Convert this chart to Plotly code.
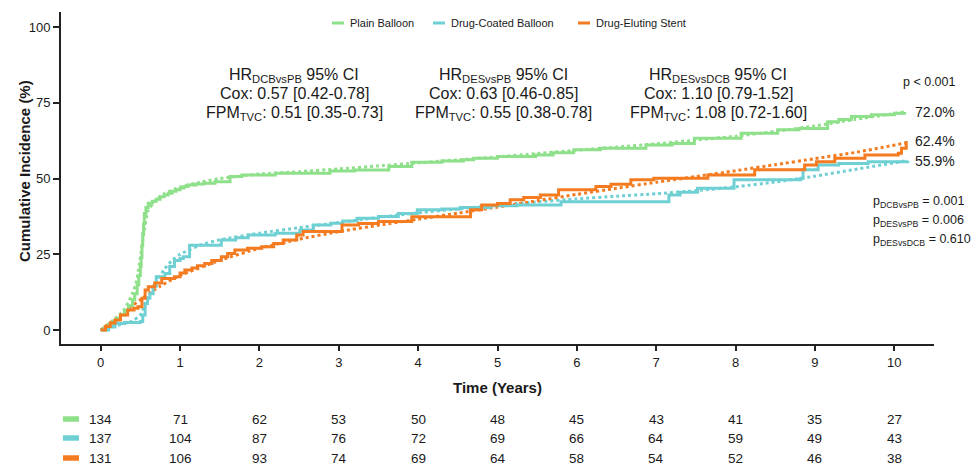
import plotly.graph_objects as go

# ---------------- data ----------------
series_names = ["Plain Balloon", "Drug-Coated Balloon", "Drug-Eluting Stent"]
series_colors = ["#8FE08A", "#6FD0D4", "#F47B20"]

# Kaplan-Meier style step curves (years, cumulative incidence %)
pb_t = [0, 0.05, 0.1, 0.15, 0.2, 0.25, 0.3, 0.35, 0.4, 0.43, 0.46, 0.48, 0.5, 0.51, 0.52,
        0.53, 0.54, 0.55, 0.57, 0.6, 0.65, 0.7, 0.75, 0.8, 0.85, 0.9, 0.95, 1.0, 1.05, 1.1,
        1.2, 1.3, 1.44, 1.63, 1.78, 2.2, 2.89, 3.2, 3.63, 3.92, 4.3, 4.57, 4.7, 5.0, 5.48,
        5.7, 5.96, 6.3, 6.87, 7.2, 7.48, 8.07, 8.53, 8.8, 9.16, 9.3, 9.46, 9.71, 10.0, 10.13]
pb_v = [0, 1.0, 2.0, 3.0, 4.0, 5.0, 6.5, 8.0, 10, 12, 15, 18, 21, 24, 28,
        32, 35, 38.5, 40.5, 41.9, 42.5, 43.2, 44, 44.6, 45.2, 45.8, 46.3, 46.9, 47.4, 47.9,
        48.2, 48.5, 49, 50.7, 51.2, 51.8, 52.5, 52.8, 54, 55.4, 55.8, 56.2, 56.7, 57.3, 57.8,
        58.5, 59.5, 60, 61.1, 61.6, 63.3, 65, 66.1, 66.5, 68.8, 69.5, 70.5, 71.1, 71.6, 72.0]

dcb_t = [0, 0.1, 0.18, 0.3, 0.5, 0.53, 0.56, 0.59, 0.62, 0.66, 0.7, 0.81, 0.87, 0.93, 1.0,
         1.04, 1.12, 1.52, 1.7, 1.86, 2.2, 2.51, 2.68, 2.9, 3.05, 3.23, 3.5, 3.75, 3.99, 4.3,
         4.53, 4.91, 5.25, 5.8, 7.16, 7.3, 7.52, 7.98, 8.82, 8.85, 9.04, 9.3, 9.67, 10.17]
dcb_v = [0, 1.0, 2.2, 2.5, 2.8, 5, 8.8, 10.5, 12, 14.5, 17.6, 18.7, 21, 23, 23.6,
         24.2, 28, 29.7, 30.5, 31.4, 32, 33, 34.7, 35.3, 36.0, 36.9, 37.5, 38.5, 39.7, 40.0,
         40.5, 41.0, 41.3, 42.4, 44.6, 45.5, 46.8, 49.6, 50.1, 52.9, 54.5, 55.0, 55.6, 55.9]

des_t = [0, 0.06, 0.12, 0.18, 0.25, 0.34, 0.42, 0.47, 0.52, 0.56, 0.6, 0.68, 0.77, 0.93, 1.0,
         1.06, 1.15, 1.22, 1.31, 1.4, 1.52, 1.6, 1.69, 1.85, 2.03, 2.18, 2.3, 2.47, 2.55, 3.04,
         3.25, 3.5, 3.92, 4.66, 4.8, 5.0, 5.16, 5.33, 5.54, 5.77, 6.24, 6.43, 6.68, 6.97, 7.65,
         8.24, 8.87, 9.02, 9.25, 9.63, 10.05, 10.09, 10.15]
des_v = [0, 1.2, 2.3, 3.3, 5.0, 6.6, 7.2, 7.7, 10.5, 13.2, 14.3, 15.5, 17, 17.6, 18.8,
         19.8, 20.5, 21.2, 22, 23, 24.2, 25.3, 26.4, 27, 27.5, 28.6, 29.7, 31.4, 32.5, 34.7,
         35.2, 35.8, 37.4, 39.7, 41.3, 41.8, 43, 43.8, 44.6, 46.3, 47.4, 48.1, 49.6, 50.1, 51.2,
         52.9, 54.5, 55.6, 56.7, 57.8, 58.4, 60.0, 62.4]

# Flexible parametric model fits (dotted)
pb_fit_t = [0, 0.2, 0.3, 0.4, 0.45, 0.5, 0.55, 0.6, 0.7, 0.8, 1.0, 1.25, 1.5, 2.0, 2.5, 3.0,
            3.5, 4.0, 4.5, 5.0, 5.5, 6.0, 6.5, 7.0, 7.5, 8.0, 8.5, 9.0, 9.5, 10.13]
pb_fit_v = [0, 4, 7, 12, 16, 24, 33, 39.5, 43, 45, 47.2, 48.8, 50, 51.5, 52.3, 53.2,
            54.2, 55.2, 56.2, 57.2, 58.3, 59.4, 60.4, 61.5, 62.7, 64.0, 65.6, 67.4, 69.5, 72.0]

dcb_fit_t = [0, 0.2, 0.4, 0.5, 0.55, 0.6, 0.7, 0.8, 0.9, 1.0, 1.25, 1.5, 2.0, 2.5, 3.0, 3.5,
             4.0, 4.5, 5.0, 5.5, 6.0, 6.5, 7.0, 7.5, 8.0, 8.5, 9.0, 9.5, 10.17]
dcb_fit_v = [0, 1.5, 3, 5, 8, 11, 16, 20, 23, 25, 28, 29.8, 32, 33.8, 35.5, 37.2,
             38.7, 40, 41.2, 42.3, 43.3, 44.2, 45.0, 46.0, 47.3, 48.9, 50.8, 53.0, 56.0]

des_fit_t = [0, 0.25, 0.5, 0.75, 1.0, 1.5, 2.0, 2.5, 3.0, 3.5, 4.0, 4.5, 5.0, 5.5, 6.0, 6.5,
             7.0, 7.5, 8.0, 8.5, 9.0, 9.5, 10.15]
des_fit_v = [0, 5, 10, 14.5, 18, 23, 27, 30, 32.5, 34.6, 36.6, 38.6, 40.6, 42.7, 44.8, 46.8,
             48.8, 50.7, 52.6, 54.6, 56.6, 58.6, 61.8]

final_labels = ["72.0%", "62.4%", "55.9%"]

# Number at risk
risk_times = [0, 1, 2, 3, 4, 5, 6, 7, 8, 9, 10]
risk_pb = [134, 71, 62, 53, 50, 48, 45, 43, 41, 35, 27]
risk_dcb = [137, 104, 87, 76, 72, 69, 66, 64, 59, 49, 43]
risk_des = [131, 106, 93, 74, 69, 64, 58, 54, 52, 46, 38]

x_ticks = [0, 1, 2, 3, 4, 5, 6, 7, 8, 9, 10]
y_ticks = [0, 25, 50, 75, 100]

hr_blocks = [
    ["HR<sub>DCBvsPB</sub> 95% CI", "Cox: 0.57 [0.42-0.78]", "FPM<sub>TVC</sub>: 0.51 [0.35-0.73]"],
    ["HR<sub>DESvsPB</sub> 95% CI", "Cox: 0.63 [0.46-0.85]", "FPM<sub>TVC</sub>: 0.55 [0.38-0.78]"],
    ["HR<sub>DESvsDCB</sub> 95% CI", "Cox: 1.10 [0.79-1.52]", "FPM<sub>TVC</sub>: 1.08 [0.72-1.60]"],
]
p_lines = ["p<sub>DCBvsPB</sub> = 0.001", "p<sub>DESvsPB</sub> = 0.006", "p<sub>DESvsDCB</sub> = 0.610"]
p_overall = "p < 0.001"

# ---------------- figure ----------------
FONT = "Arial, Liberation Sans, Helvetica, sans-serif"
TXT = "#1a1a1a"
W, H = 973, 465
ML, MR, MT, MB = 61, 39, 12, 121
PW, PH = W - ML - MR, H - MT - MB


def px_x(px):
    return (px - ML) / PW


def px_y(py):
    return (H - MB - py) / PH


fig = go.Figure()

steps = [(pb_t, pb_v), (dcb_t, dcb_v), (des_t, des_v)]
fits = [(pb_fit_t, pb_fit_v), (dcb_fit_t, dcb_fit_v), (des_fit_t, des_fit_v)]

for (ft, fv), c, n in zip(fits, series_colors, series_names):
    fig.add_trace(go.Scatter(x=ft, y=fv, mode="lines", line=dict(color=c, width=3, dash="dot",
                                                                  shape="spline", smoothing=0.6),
                             showlegend=False, name=n + " (FPM)", hoverinfo="skip"))
for (st, sv), c, n in zip(steps, series_colors, series_names):
    fig.add_trace(go.Scatter(x=st, y=sv, mode="lines", line=dict(color=c, width=3, shape="hv"),
                             showlegend=False, name=n))

ann = []
# HR blocks
block_x = [2.44, 5.08, 7.78]
line_y = [75, 94, 113]
for bx, lines in zip(block_x, hr_blocks):
    for ly, txt in zip(line_y, lines):
        ann.append(dict(x=bx, xref="x", y=px_y(ly), yref="paper", text=txt, showarrow=False,
                        xanchor="center", yanchor="middle", font=dict(size=16, color=TXT, family=FONT)))

ann.append(dict(x=px_x(929), xref="paper", y=px_y(82), yref="paper", text=p_overall, showarrow=False,
                xanchor="center", yanchor="middle", font=dict(size=12.5, color=TXT, family=FONT)))

end_series = [(final_labels[0], 112), (final_labels[1], 141), (final_labels[2], 161)]
for lab, ly in end_series:
    ann.append(dict(x=px_x(913), xref="paper", y=px_y(ly), yref="paper", text=lab, showarrow=False,
                    xanchor="left", yanchor="middle", font=dict(size=14, color=TXT, family=FONT)))

for ly, txt in zip([202, 220.5, 239.5], p_lines):
    ann.append(dict(x=px_x(871), xref="paper", y=px_y(ly), yref="paper", text=txt, showarrow=False,
                    xanchor="left", yanchor="middle", font=dict(size=12.5, color=TXT, family=FONT)))

# axis titles
ann.append(dict(x=px_x(24), xref="paper", y=px_y(171), yref="paper", text="<b>Cumulative Incidence (%)</b>",
                textangle=-90, showarrow=False, xanchor="center", yanchor="middle",
                font=dict(size=15, color=TXT, family=FONT)))
ann.append(dict(x=0.5, xref="paper", y=px_y(387), yref="paper", text="<b>Time (Years)</b>",
                showarrow=False, xanchor="center", yanchor="middle", font=dict(size=15, color=TXT, family=FONT)))

# legend (custom, short line samples)
shapes = []
leg_sym_x = [332, 433, 578]
for sx, c, n in zip(leg_sym_x, series_colors, series_names):
    shapes.append(dict(type="line", xref="paper", yref="paper", x0=px_x(sx), x1=px_x(sx + 12),
                       y0=px_y(23), y1=px_y(23), line=dict(color=c, width=3)))
    ann.append(dict(x=px_x(sx + 16), xref="paper", y=px_y(23), yref="paper", text=n, showarrow=False,
                    xanchor="left", yanchor="middle", font=dict(size=11, color=TXT, family=FONT)))

# number-at-risk table
row_y = [419, 438, 458]
for ry, row, c in zip(row_y, [risk_pb, risk_dcb, risk_des], series_colors):
    shapes.append(dict(type="line", xref="paper", yref="paper", x0=px_x(63), x1=px_x(79),
                       y0=px_y(ry), y1=px_y(ry), line=dict(color=c, width=5.5)))
    for t, n in zip(risk_times, row):
        ann.append(dict(x=t, xref="x", y=px_y(ry), yref="paper", text=str(n), showarrow=False,
                        xanchor="center", yanchor="middle", font=dict(size=13.5, color=TXT, family=FONT)))

fig.update_layout(
    width=W, height=H,
    margin=dict(l=ML, r=MR, t=MT, b=MB),
    paper_bgcolor="white", plot_bgcolor="white",
    font=dict(family=FONT, color=TXT),
    showlegend=False,
    annotations=ann, shapes=shapes,
    xaxis=dict(range=[-0.5, 10.5], tickvals=x_ticks, ticks="outside", ticklen=5, tickwidth=1.5,
               tickcolor="#222", showline=True, linecolor="#222", linewidth=2, showgrid=False,
               zeroline=False, tickfont=dict(size=13, color=TXT, family=FONT)),
    yaxis=dict(range=[-4.6, 105], tickvals=y_ticks, ticks="outside", ticklen=6, tickwidth=1.5,
               tickcolor="#222", showline=True, linecolor="#222", linewidth=2, showgrid=False,
               zeroline=False, tickfont=dict(size=13, color=TXT, family=FONT)),
)

fig.write_html("out.html", config={"displayModeBar": False},
               post_script="document.body.style.margin='0';document.body.style.overflow='hidden';")
